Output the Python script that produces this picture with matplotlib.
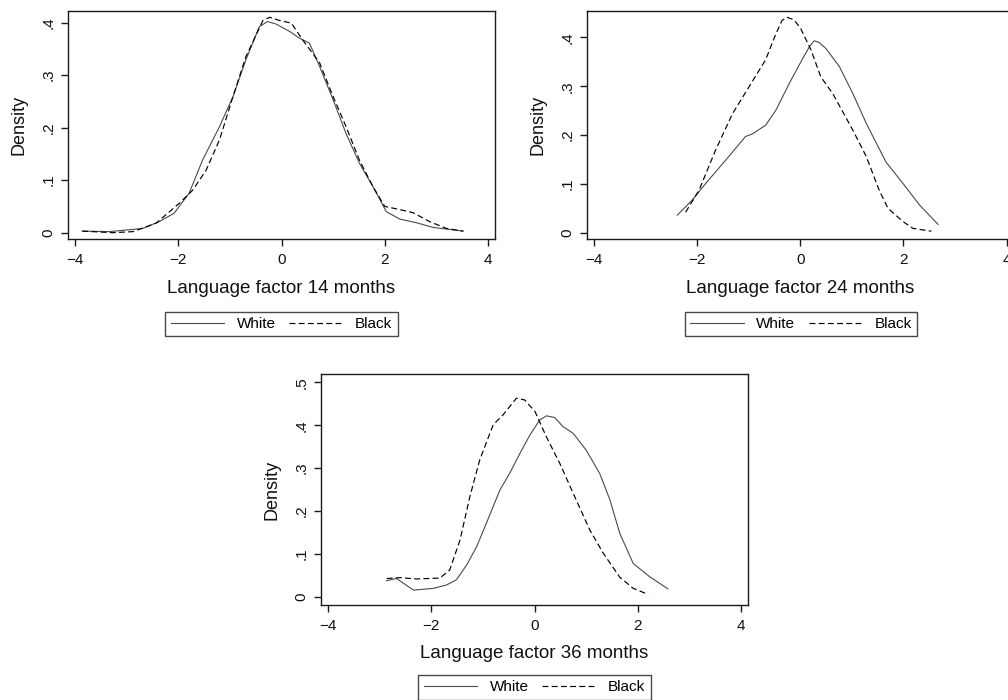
import matplotlib
matplotlib.use("Agg")
import matplotlib.pyplot as plt
from matplotlib.lines import Line2D

plt.rcParams['font.family'] = ['Liberation Sans', 'DejaVu Sans']

# ---- data ----
white14_x = [-3.86, -3.34, -2.69, -2.37, -2.08, -1.79, -1.53, -1.20, -0.94, -0.69, -0.43, -0.27, -0.10,
             0.16, 0.35, 0.54, 0.74, 1.00, 1.25, 1.51, 1.77, 2.03, 2.29, 2.61, 2.94, 3.52]
white14_y = [0.003, 0.002, 0.008, 0.021, 0.037, 0.075, 0.138, 0.202, 0.259, 0.329, 0.392, 0.402, 0.397,
             0.383, 0.370, 0.361, 0.316, 0.253, 0.189, 0.132, 0.088, 0.040, 0.026, 0.019, 0.010, 0.003]
black14_x = [-3.86, -3.27, -2.88, -2.43, -1.98, -1.72, -1.46, -1.20, -0.94, -0.69, -0.36, -0.23, -0.04,
             0.19, 0.41, 0.74, 1.00, 1.25, 1.51, 1.77, 2.00, 2.29, 2.55, 2.87, 3.20, 3.52]
black14_y = [0.003, 0.000, 0.002, 0.018, 0.056, 0.081, 0.119, 0.177, 0.259, 0.335, 0.404, 0.410, 0.404,
             0.399, 0.367, 0.323, 0.259, 0.202, 0.138, 0.088, 0.050, 0.044, 0.038, 0.021, 0.008, 0.003]

white24_x = [-2.38, -2.09, -1.83, -1.44, -1.06, -0.93, -0.67, -0.47, -0.21, 0.05, 0.18, 0.27, 0.36, 0.50, 0.76,
             1.02, 1.28, 1.66, 1.99, 2.31, 2.67]
white24_y = [0.036, 0.067, 0.101, 0.149, 0.197, 0.202, 0.220, 0.251, 0.306, 0.357, 0.381, 0.393, 0.390, 0.377, 0.340,
             0.285, 0.224, 0.145, 0.101, 0.057, 0.017]
black24_x = [-2.22, -1.96, -1.64, -1.31, -0.99, -0.67, -0.48, -0.35, -0.25, -0.12, 0.01, 0.21, 0.40, 0.63, 1.02,
             1.28, 1.53, 1.70, 1.99, 2.18, 2.54]
black24_y = [0.042, 0.087, 0.169, 0.244, 0.299, 0.354, 0.405, 0.435, 0.441, 0.436, 0.418, 0.374, 0.319, 0.285, 0.210,
             0.156, 0.087, 0.050, 0.023, 0.009, 0.003]

white36_x = [-2.86, -2.67, -2.34, -1.96, -1.70, -1.51, -1.31, -1.12, -0.93, -0.67, -0.48, -0.28, -0.09,
             0.10, 0.23, 0.39, 0.55, 0.75, 1.00, 1.26, 1.46, 1.65, 1.91, 2.23, 2.58]
white36_y = [0.038, 0.043, 0.016, 0.020, 0.028, 0.040, 0.075, 0.117, 0.172, 0.249, 0.288, 0.335, 0.377,
             0.412, 0.422, 0.418, 0.397, 0.381, 0.342, 0.288, 0.226, 0.148, 0.078, 0.047, 0.019]
black36_x = [-2.86, -2.60, -2.28, -1.83, -1.64, -1.44, -1.25, -1.06, -0.80, -0.61, -0.35, -0.19, 0.01,
             0.23, 0.49, 0.75, 1.07, 1.33, 1.65, 1.91, 2.20]
black36_y = [0.043, 0.045, 0.042, 0.044, 0.063, 0.133, 0.234, 0.319, 0.401, 0.424, 0.463, 0.459, 0.432,
             0.373, 0.311, 0.241, 0.156, 0.102, 0.046, 0.020, 0.006]

x_ticks = [-4, -2, 0, 2, 4]
x_tick_labels = ["\u22124", "\u22122", "0", "2", "4"]
y_ticks_a = [0, 0.1, 0.2, 0.3, 0.4]
y_ticks_c = [0, 0.1, 0.2, 0.3, 0.4, 0.5]
y_tick_labels_c = ["0", ".1", ".2", ".3", ".4", ".5"]
xlabels = ["Language factor 14 months", "Language factor 24 months", "Language factor 36 months"]
series_names = ["White", "Black"]

# ---- figure ----
fig = plt.figure(figsize=(10.08, 7.0), dpi=100)

W, H = 1008.0, 700.0
def ax_at(left_px, top_px, w_px, h_px):
    return fig.add_axes([left_px / W, 1 - (top_px + h_px) / H, w_px / W, h_px / H])

panels = [
    dict(rect=(68, 11, 427, 228.3), wx=white14_x, wy=white14_y, bx=black14_x, by=black14_y,
         ylim=(-0.0126, 0.422), yt=y_ticks_a, ytl=y_tick_labels_c[:5], xl=xlabels[0],
         leg=(281.5, 311.7)),
    dict(rect=(586.7, 11, 427, 228.3), wx=white24_x, wy=white24_y, bx=black24_x, by=black24_y,
         ylim=(-0.0135, 0.454), yt=y_ticks_a, ytl=y_tick_labels_c[:5], xl=xlabels[1],
         leg=(801, 311.7)),
    dict(rect=(320.7, 374.3, 427.6, 230.7), wx=white36_x, wy=white36_y, bx=black36_x, by=black36_y,
         ylim=(-0.0187, 0.5187), yt=y_ticks_c, ytl=y_tick_labels_c, xl=xlabels[2],
         leg=(534.5, 675)),
]

edge = "#1a1a1a"
for p in panels:
    ax = ax_at(*p["rect"])
    ax.plot(p["wx"], p["wy"], color="#4a4a4a", lw=0.8, solid_joinstyle="round")
    ax.plot(p["bx"], p["by"], color="black", lw=0.85, linestyle=(0, (5, 2.8)))
    ax.set_xlim(-4.136, 4.136)
    ax.set_ylim(*p["ylim"])
    ax.set_xticks(x_ticks)
    ax.set_xticklabels(x_tick_labels)
    ax.set_yticks(p["yt"])
    ax.set_yticklabels(p["ytl"])
    for s in ax.spines.values():
        s.set_color(edge)
        s.set_linewidth(1.0)
    ax.tick_params(axis="both", direction="out", length=5, width=1.0, color=edge,
                   labelsize=11, labelcolor="#111111")
    ax.tick_params(axis="x", pad=5)
    ax.tick_params(axis="y", pad=4, labelrotation=90)
    for lab in ax.get_yticklabels():
        lab.set_va("center")
    ax.set_xlabel(p["xl"], fontsize=13.5, labelpad=9, color="#111111")
    ax.set_ylabel("Density", fontsize=13, labelpad=10, color="#111111")

    handles = [Line2D([], [], color="#4a4a4a", lw=0.8),
               Line2D([], [], color="black", lw=0.85, linestyle=(0, (5, 2.8)))]
    lx, ly = p["leg"]
    leg = fig.legend(handles, series_names, loc="upper center",
                     bbox_to_anchor=(lx / W, 1 - ly / H), ncol=2, fontsize=11,
                     frameon=True, fancybox=False, handlelength=3.5, handletextpad=0.8,
                     columnspacing=0.9, borderpad=0.35, borderaxespad=0.0)
    fr = leg.get_frame()
    fr.set_edgecolor(edge)
    fr.set_linewidth(1.0)

fig.savefig("out.png", dpi=100, facecolor="white")
